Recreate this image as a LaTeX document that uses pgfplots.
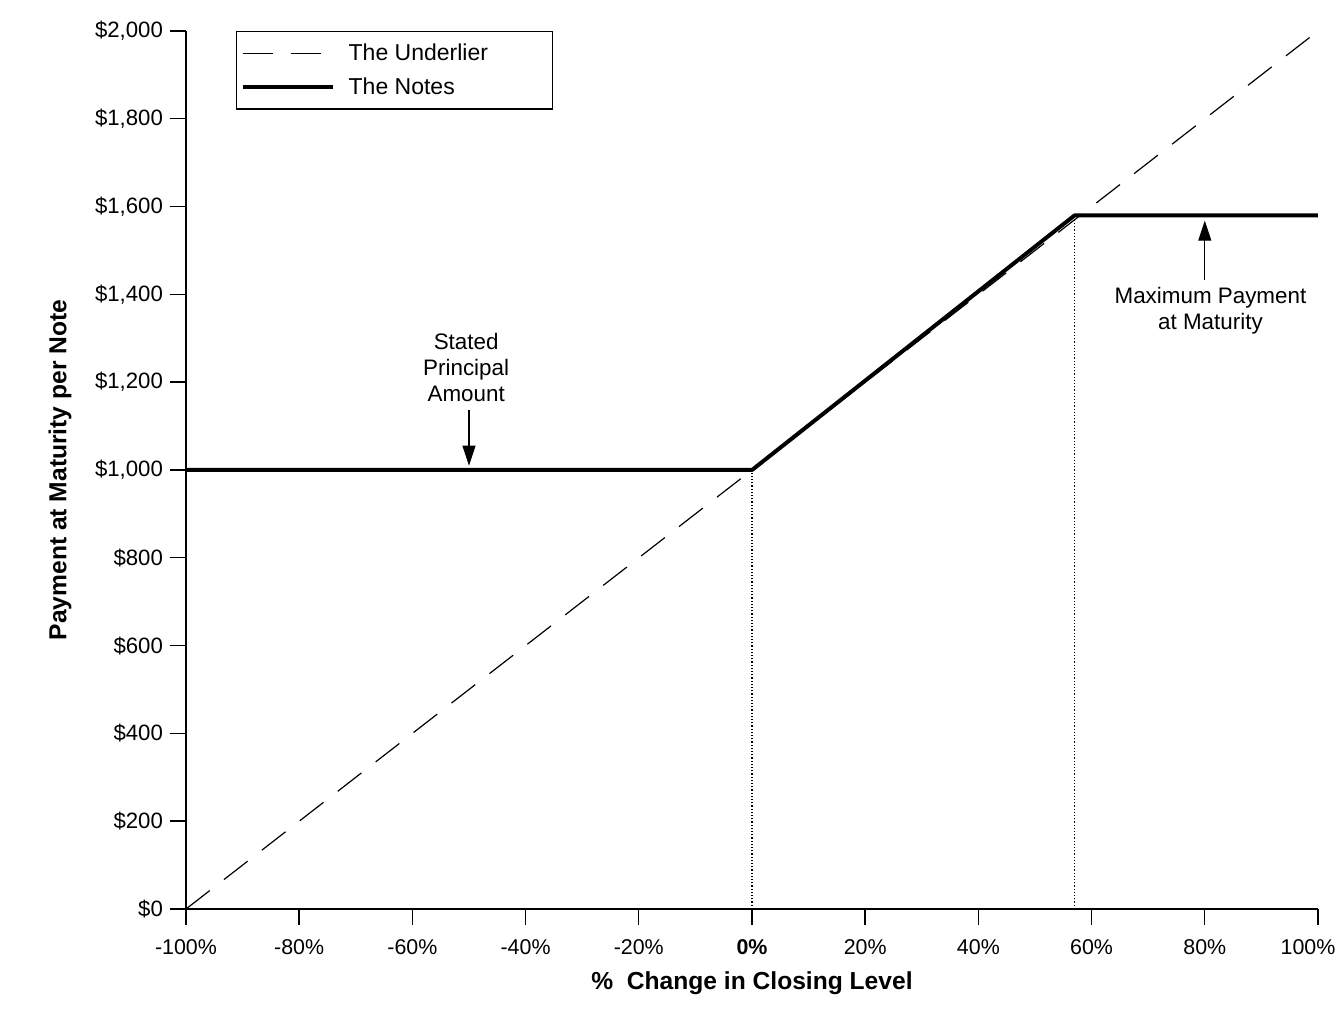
\documentclass[border=0pt]{standalone}
\usepackage{fontspec}
\setmainfont{Liberation Sans}
\usepackage{pgfplots}
\pgfplotsset{compat=1.18}
\usetikzlibrary{arrows.meta}
\begin{document}
\begin{tikzpicture}[x=1pt,y=1pt]
\path[use as bounding box] (0,0) rectangle (670.5,507);
\begin{axis}[
  at={(93pt,52.5pt)}, anchor=south west,
  scale only axis, width=566pt, height=439pt,
  xmin=-100, xmax=100, ymin=0, ymax=2000,
  axis lines=left, axis line style={-, line width=0.7pt},
  clip=false,
  xtick={-100,-80,-60,-40,-20,0,20,40,60,80,100},
  xticklabels={-100\%,-80\%,-60\%,-40\%,-20\%,\textbf{0\%},20\%,40\%,60\%,80\%,\hspace*{-10pt}100\%},
  ytick={0,200,400,600,800,1000,1200,1400,1600,1800,2000},
  yticklabels={{\$0},{\$200},{\$400},{\$600},{\$800},{\$1,000},{\$1,200},{\$1,400},{\$1,600},{\$1,800},{\$2,000}},
  tick align=outside, major tick length=8pt,
  tick style={black, line width=0.7pt},
  yticklabel style={font=\fontsize{11.1}{14}\selectfont},
  xticklabel style={font=\fontsize{10.7}{14}\selectfont, yshift=-3.5pt},
  xlabel={\%\ \ Change in Closing Level},
  xlabel style={font=\bfseries\fontsize{12.3}{15}\selectfont, at={(axis description cs:0.5,0)}, anchor=center, yshift=-37pt},
  ylabel={Payment at Maturity per Note},
  ylabel style={font=\bfseries\fontsize{12.3}{15}\selectfont, at={(axis description cs:0,0.5)}, anchor=center, yshift=63pt},
  legend style={at={(axis description cs:0,1)}, anchor=north west, xshift=25pt,
    draw=black, line width=0.7pt, font=\fontsize{11.5}{14}\selectfont,
    inner xsep=2pt, inner ysep=4pt, row sep=3pt, column sep=5pt},
  legend cell align=left,
  legend image code/.code={\draw[#1] (0pt,0pt) -- (45pt,0pt);},
]
\addplot[black, line width=0.6pt, dash pattern=on 15pt off 9pt] coordinates {(-100,0) (100,2000)};
\addlegendentry{\makebox[98pt][l]{The Underlier}}
\addplot[black, line width=2pt, line join=round] coordinates {(-100,1000) (0,1000) (57,1580) (100,1580)};
\addlegendentry{\makebox[98pt][l]{The Notes}}
\addplot[black, line width=0.6pt, densely dotted, forget plot] coordinates {(0,0) (0,1000)};
\addplot[black, line width=0.6pt, densely dotted, forget plot] coordinates {(57,0) (57,1580)};
\draw[line width=0.6pt, -{Triangle[length=10pt, width=6.5pt]}] (axis cs:-50,1137) -- (axis cs:-50,1010);
\draw[line width=0.6pt, -{Triangle[length=10pt, width=6.5pt]}] (axis cs:80,1433) -- (axis cs:80,1568);
\node[align=center, font=\fontsize{11.2}{13}\selectfont] at (axis cs:-50.5,1234) {Stated\\Principal\\Amount};
\node[align=center, font=\fontsize{11.2}{13}\selectfont] at (axis cs:81,1362) {Maximum Payment\\at Maturity};
\end{axis}
\end{tikzpicture}
\end{document}
